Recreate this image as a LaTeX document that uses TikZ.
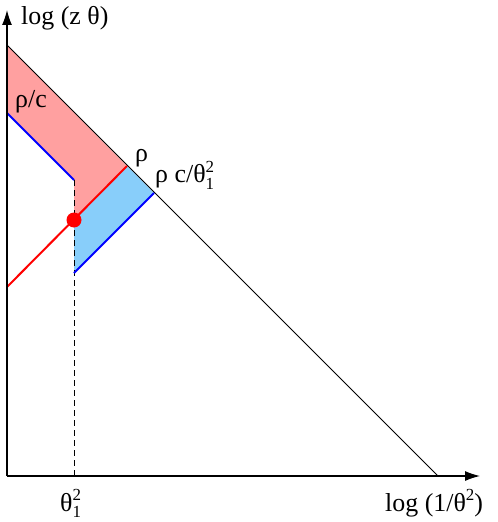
\documentclass[tikz,border=0pt]{standalone}
\usepackage{fontspec}
\setmainfont{Liberation Serif}
\usetikzlibrary{arrows.meta}
\newcommand{\scr}[1]{{\fontsize{17}{17}\selectfont #1}}
\newcommand{\subsup}[2]{\rlap{\raisebox{-0.25em}{\scr{#1}}}\raisebox{0.42em}{\scr{#2}}}
\begin{document}
\begin{tikzpicture}[x=1bp,y=-1bp,
  axis/.style={line width=1.2bp,-{Latex[length=15bp,width=10bp]}},
  thin line/.style={line width=1bp},
  redline/.style={red,line width=2bp},
  blueline/.style={blue,line width=2bp},
  lbl/.style={font=\fontsize{26}{28}\selectfont,inner sep=0pt,anchor=base west}]
\useasboundingbox (0,0) rectangle (498,522);
\definecolor{pinkfill}{HTML}{FFA0A0}
\definecolor{bluefill}{HTML}{88CEFA}
\coordinate (O) at (7,476);
\coordinate (Ytip) at (7,10);
\coordinate (Xtip) at (480,476);
\coordinate (D0) at (7,45);
\coordinate (D1) at (438,476);
\coordinate (R0) at (7,287);
\coordinate (R1) at (127,166);
\coordinate (B0) at (7,113);
\coordinate (B1) at (74,180);
\coordinate (Dot) at (74,220);
\coordinate (L0) at (74,273);
\coordinate (L1) at (154,193);
\coordinate (V) at (74,476);
% fills
\fill[pinkfill] (D0) -- (R1) -- (Dot) -- (B1) -- (B0) -- cycle;
\fill[bluefill] (R1) -- (L1) -- (L0) -- (Dot) -- cycle;
% lines
\draw[thin line] (D0) -- (D1);
\draw[thin line,dash pattern=on 6bp off 4bp] (B1) -- (V);
\draw[redline] (R0) -- (R1);
\draw[blueline] (B0) -- (B1);
\draw[blueline] (L0) -- (L1);
\fill[red] (Dot) circle (7.5bp);
% axes
\draw[axis] (O) -- (Ytip);
\draw[axis] (O) -- (Xtip);
% labels
\node[lbl] (ylab) at (21,25) {log (z θ)};
\node[lbl] (rhoc) at (15,108) {ρ/c};
\node[lbl] (rho) at (135,162) {ρ};
\node[lbl] (rhoc2) at (155,183) {ρ c/θ\subsup{1}{2}};
\node[lbl] (th) at (60,511) {θ\subsup{1}{2}};
\node[lbl] (xlab) at (385,511) {log (1/θ\raisebox{0.42em}{\scr{2}})};
\end{tikzpicture}
\end{document}
